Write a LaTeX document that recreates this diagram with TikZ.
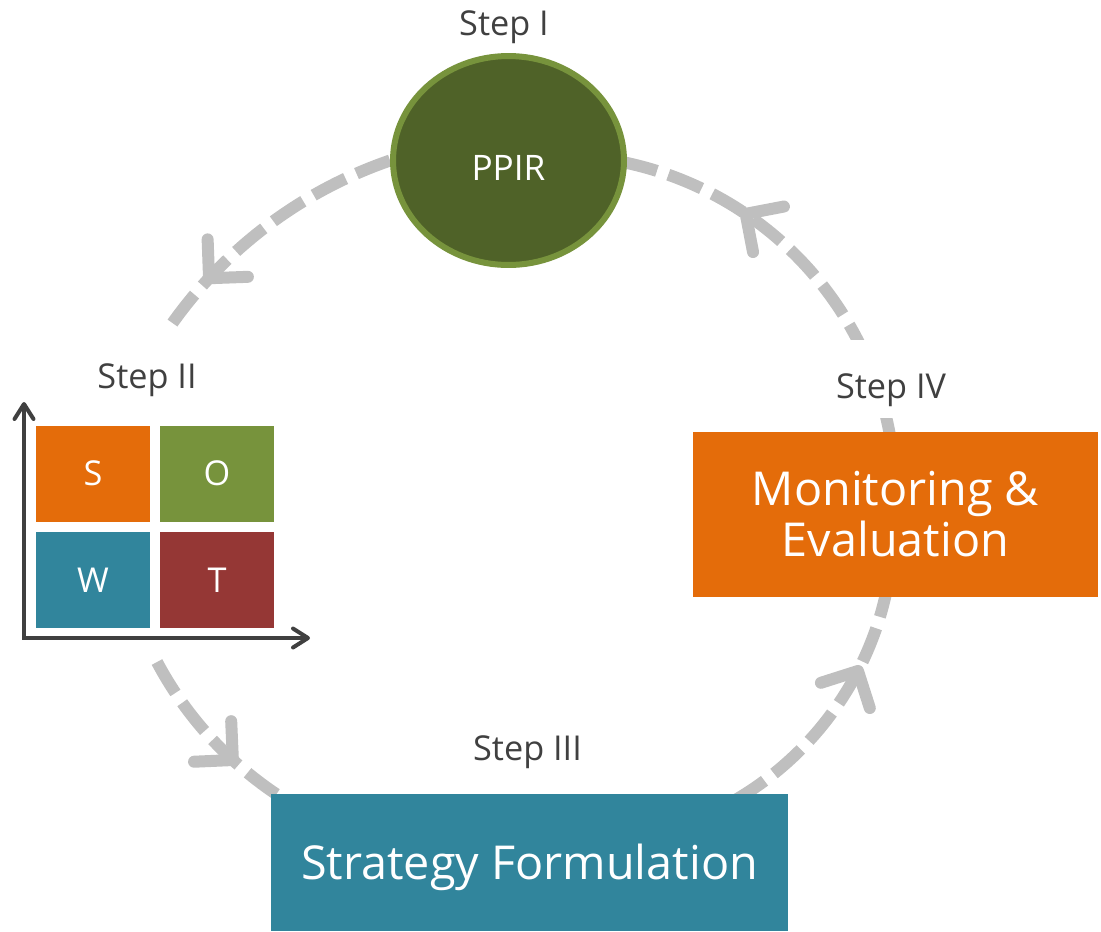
\documentclass[tikz,border=0pt]{standalone}
\usepackage{fontspec}
\setmainfont{Open Sans}
\usetikzlibrary{arrows.meta,decorations.markings,shapes.geometric}
\definecolor{arcgray}{HTML}{BFBFBF}
\definecolor{txtgray}{HTML}{404040}
\definecolor{olivedark}{HTML}{4F6228}
\definecolor{olivemid}{HTML}{77933C}
\definecolor{orangebox}{HTML}{E46C0A}
\definecolor{tealbox}{HTML}{31859C}
\definecolor{redbox}{HTML}{953735}
\pgfdeclarelayer{bg}
\pgfsetlayers{bg,main}
\begin{document}
\begin{tikzpicture}[x=0.02cm,y=0.02cm,
  steplabel/.style={font=\fontsize{19.5pt}{23pt}\selectfont, text=txtgray, anchor=base, inner sep=0pt},
  flow/.style={draw=arcgray, line width=0.24cm, dash pattern=on 0.72cm off 0.24cm},
  chevat/.style={postaction={decorate,decoration={markings, mark=at position #1 with {\draw[solid,draw=arcgray,line width=0.24cm,line cap=round,line join=round] (-0.55cm,0.55cm) -- (0,0) -- (-0.55cm,-0.55cm);}}}},
  swotbox/.style={rectangle, minimum width=2.28cm, minimum height=1.91cm, inner sep=0pt, text=white, font=\fontsize{19.5pt}{23pt}\selectfont, text height=0.48cm, text depth=0pt},
  bigbox/.style={rectangle, inner sep=0pt, text=white, font=\fontsize{26.6pt}{29pt}\selectfont},
  axis/.style={draw=txtgray, line width=0.08cm, {Straight Barb[length=0.3cm,width=0.38cm,round]}-{Straight Barb[length=0.3cm,width=0.38cm,round]}}
]
\useasboundingbox (0,0) rectangle (1101,-931);

% Step I
\node[ellipse, draw=olivemid, line width=0.12cm, fill=olivedark, minimum width=4.62cm, minimum height=4.18cm, inner sep=0pt, text=white, font=\fontsize{20pt}{24pt}\selectfont, text height=0.78cm, text depth=0pt] (ppir) at (508.5,-160.5) {PPIR};
\node[steplabel] (s1) at (504,-35) {Step I};

% Step II
\node[steplabel] (s2) at (147,-388) {Step II};
\node[swotbox, fill=orangebox] (sS) at (93,-473.75) {S};
\node[swotbox, fill=olivemid] (sO) at (217,-473.75) {O};
\node[swotbox, fill=tealbox] (sW) at (93,-580) {W};
\node[swotbox, fill=redbox] (sT) at (217,-580) {T};
\coordinate (ytop) at (24,-402);
\coordinate (corner) at (24,-638);
\coordinate (xend) at (310,-638);
\draw[axis] (ytop) -- (corner) -- (xend);

% Step III
\node[steplabel] (s3) at (527.5,-760) {Step III};
\node[bigbox, fill=tealbox, minimum width=10.34cm, minimum height=2.74cm, text height=0.67cm, text depth=0pt] (sf) at (529.5,-862.5) {Strategy Formulation};

% Step IV
\node[steplabel, fill=white, text height=1.16cm, text depth=0.4cm] (s4) at (891,-398) {Step IV};
\node[bigbox, fill=orangebox, minimum width=8.1cm, minimum height=3.3cm, align=center] (me) at (895.5,-514.5) {Monitoring \&\\Evaluation};

% connectors
\coordinate (a2s) at (157,-662);
\coordinate (a3s) at (734.4,-800.5);
\coordinate (a4s) at (892.1,-448.7);
\begin{pgfonlayer}{bg}
\draw[flow, chevat=0.78] (ppir.west) arc[start angle=109, end angle=145, radius=445];
\draw[flow, chevat=0.65] (a2s) arc[start angle=208, end angle=238, radius=366];
\draw[flow, chevat=0.654] (a3s) arc[start angle=-60, end angle=-10, radius=318];
\draw[flow, chevat=0.665] (a4s) arc[start angle=8, end angle=80, radius=341];
\end{pgfonlayer}
\end{tikzpicture}
\end{document}
